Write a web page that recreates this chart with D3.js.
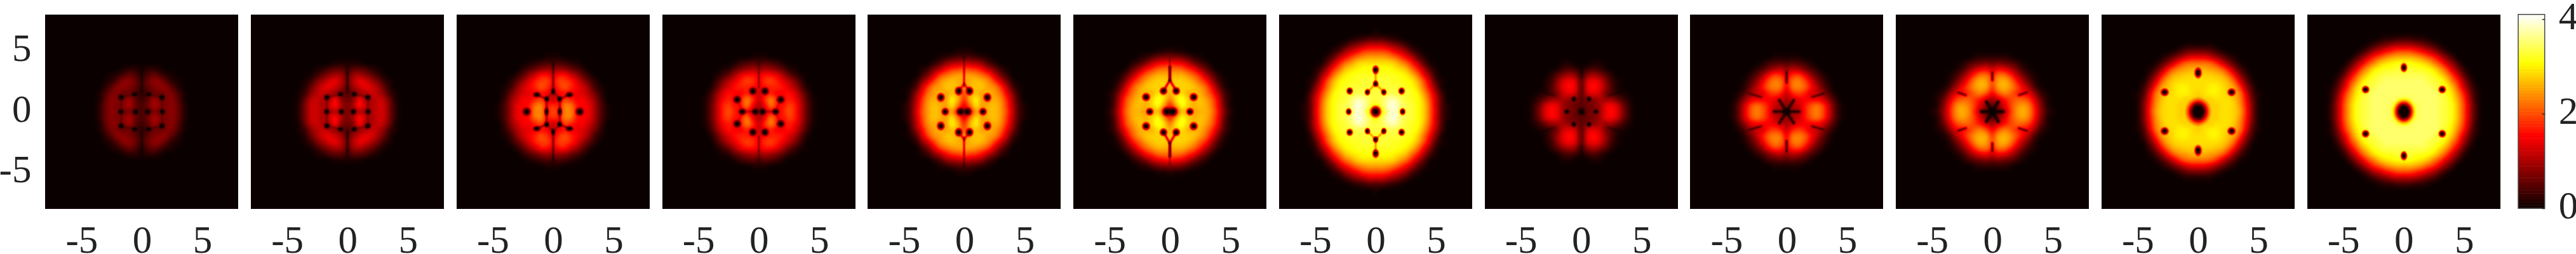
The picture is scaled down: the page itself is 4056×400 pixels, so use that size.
<!DOCTYPE html>
<html>
<head>
<meta charset="utf-8">
<script src="https://cdn.jsdelivr.net/npm/d3@7"></script>
<style>
  html, body { margin: 0; padding: 0; background: #fff; overflow: hidden; }
  #plot { position: relative; width: 4056px; height: 400px; }
  canvas, svg { position: absolute; left: 0; top: 0; }
  text { font-family: "Liberation Serif", serif; font-size: 61px; fill: #222; }
</style>
</head>
<body>
<div id="plot"></div>
<script>
// density, estimated by eye, one quadrant only (panels are mirror symmetric)
// rows are y = 0, 0.5, 1 ... and columns x = 0, 0.5, 1 ... values are density x 10, past the row end is 0
var density1 = [
  [4,4,7,6,7,8,6,2,0],[4,6,10,8,7,8,6,2,0],[3,5,9,7,7,8,5,1,0],[2,4,6,6,7,7,4,1,0],[3,5,7,8,8,5,2,0],
  [3,6,8,8,5,2,1,0],[2,4,6,4,2,1,0],[1,2,2,1,0]];
var density2 = [
  [7,7,11,9,10,12,12,7,2,0],[7,10,16,12,10,12,12,7,2,0],[6,8,15,10,10,12,11,6,1,0],[4,6,9,10,12,11,8,3,1,0],
  [5,9,12,14,13,10,6,2,0],[6,11,14,13,10,7,3,1,0],[5,9,10,8,6,3,1,0],[3,5,5,4,2,1,0],[1,1,1,0]];
var density3 = [
  [20,17,23,23,16,15,14,9,4,1,0],[18,17,23,22,16,15,14,9,4,1,0],[12,15,19,17,15,15,12,8,3,0],[12,15,16,15,14,13,10,6,2,0],
  [14,18,20,17,15,12,8,3,1,0],[16,19,19,17,13,9,5,2,0],[13,16,16,12,9,5,2,0],[8,9,8,6,4,2,0],[3,4,3,2,1,0],[1,1,0]];
var density4 = [
  [8,12,16,14,17,20,17,11,5,1,0],[10,15,22,17,16,19,17,11,5,1,0],[12,18,23,17,15,17,15,10,4,1,0],[12,15,17,15,15,16,13,8,3,0],
  [14,16,17,17,16,13,10,5,1,0],[15,18,19,17,14,11,7,3,0],[14,16,16,14,10,6,3,1,0],[9,10,9,7,5,2,1,0],[4,5,4,3,1,0],[1,1,0]];
var density5 = [
  [8,15,25,21,26,27,25,20,12,4,1,0],[14,22,29,25,26,27,25,19,11,4,1,0],[18,26,30,25,24,26,24,18,10,3,0],[20,25,27,25,26,25,22,15,8,2,0],
  [23,26,27,27,25,24,19,12,4,1,0],[25,26,27,26,24,19,13,7,2,0],[25,25,24,22,19,13,7,3,0],[20,19,18,15,11,7,3,1,0],
  [12,11,10,8,4,2,0],[4,4,3,2,1,0],[1,1,0]];
var density6 = [
  [12,17,27,24,25,26,26,23,16,7,2,0],[17,25,31,28,26,27,26,22,15,6,1,0],[23,29,32,28,26,27,25,21,14,5,1,0],[26,28,29,26,26,26,23,18,11,4,1,0],
  [27,28,28,28,27,25,21,15,7,2,0],[27,28,28,27,25,21,17,10,4,1,0],[26,26,26,24,21,17,11,6,2,0],[22,22,21,18,15,10,6,2,0],
  [16,15,14,11,7,4,2,0],[7,7,6,4,2,1,0],[2,1,1,0]];
var density7 = [
  [15,29,37,39,36,34,33,31,28,21,13,4,1,0],[30,34,38,40,36,34,33,31,28,21,12,4,1,0],[33,34,37,38,35,33,32,31,27,20,12,4,0],
  [33,34,34,34,33,33,32,30,25,18,10,3,0],[33,33,33,33,33,32,31,28,22,15,7,1,0],[33,33,33,32,32,31,30,26,20,12,4,1,0],
  [32,32,32,32,31,30,27,22,15,8,2,0],[31,31,31,30,29,27,22,17,10,4,1,0],[29,29,29,28,25,22,17,11,5,1,0],
  [25,25,24,22,19,15,11,5,2,0],[19,19,18,15,12,9,4,2,0],[12,12,10,8,6,3,1,0],[4,4,3,2,1,0],[1,0]];
var density8 = [
  [3,6,7,9,14,16,13,7,2,0],[5,6,7,9,14,15,12,6,2,0],[5,7,8,10,9,9,6,3,1,0],[5,12,14,12,7,4,2,1,0],[5,14,16,14,9,4,1,0],
  [5,13,15,13,8,3,1,0],[3,8,10,8,5,2,0],[1,3,4,3,1,0],[0,0,1,1,0]];
var density9 = [
  [6,9,10,16,21,23,20,13,5,1,0],[8,10,12,16,20,22,19,12,5,1,0],[10,12,14,15,15,15,13,8,3,0],[12,17,19,17,13,12,9,4,1,0],
  [15,22,23,21,16,11,6,2,0],[16,22,23,20,14,8,4,1,0],[14,18,19,15,9,5,2,0],[9,11,10,7,4,2,0],[4,5,4,3,1,0],[1,1,1,0]];
var density10 = [
  [3,5,10,18,24,26,24,17,9,3,1,0],[5,8,13,19,23,25,23,16,8,2,0],[9,12,16,19,21,21,19,13,6,2,0],[15,20,23,21,18,16,14,9,3,1,0],
  [19,25,26,24,20,15,10,4,1,0],[20,25,26,23,17,11,6,2,0],[18,22,22,18,12,7,3,1,0],[12,15,14,11,7,3,1,0],[6,7,6,5,3,1,0],[2,2,2,1,0]];
var density11 = [
  [27,27,28,28,29,29,28,25,17,7,1,0],[27,27,28,28,29,29,28,24,16,7,1,0],[27,28,28,29,29,29,27,23,15,6,1,0],[28,29,30,30,29,28,26,22,13,4,1,0],
  [29,29,30,30,29,27,25,18,9,3,0],[29,29,29,29,28,26,21,13,6,1,0],[28,28,28,27,26,22,16,8,3,0],[26,26,25,24,21,16,9,4,1,0],
  [22,22,21,18,13,8,4,1,0],[14,14,12,9,6,3,1,0],[6,6,5,3,1,0],[1,1,1,0]];
var density12 = [
  [34,34,34,35,35,35,34,33,31,26,19,10,3,0],[34,34,34,35,35,35,34,33,31,26,19,10,3,0],[34,34,35,35,35,35,34,33,30,25,18,9,2,0],
  [35,35,35,35,35,35,34,32,29,23,16,7,2,0],[35,35,35,35,35,34,33,31,27,20,12,5,1,0],[35,35,35,35,34,33,32,29,23,17,9,3,0],
  [34,34,34,34,33,32,29,25,19,12,5,1,0],[33,33,32,32,31,29,25,20,13,7,2,0],[31,31,30,29,27,23,19,13,8,3,0],
  [26,26,25,23,20,17,12,7,3,0],[19,19,17,15,12,9,5,2,0],[10,10,9,7,5,3,1,0],[3,3,2,2,1,0]];

// dark vortex cores, first quadrant, [x, y, radius x, radius y]
var vortices1 = [[1.7,1.18,.34,.34],[1.72,0,.32,.32],[.57,1.44,.32,.28],[.5,0,.32,.34]];
var vortices2 = [[1.7,1.18,.34,.34],[1.72,0,.32,.32],[.57,1.44,.32,.28],[.5,0,.32,.34]];
var vortices3 = [[2.2,0,.45,.45],[1.35,1.4,.42,.3],[.53,1.05,.3,.35],[.55,0,.25,.45],[0,1.67,.25,.4]];
var vortices4 = [[.5,1.7,.42,.42],[1.8,1,.42,.42],[1.38,0,.4,.35],[.3,0,.38,.38]];
var vortices5 = [[.45,1.7,.4,.45],[1.93,1.18,.4,.45],[1.57,0,.38,.38],[.3,0,.42,.42]];
var vortices6 = [[.53,1.7,.4,.4],[1.97,1.2,.42,.42],[1.67,0,.38,.38],[.25,0,.48,.48]];
var vortices7 = [[0,3.45,.35,.45],[0,2.3,.3,.35],[2.15,1.7,.35,.38],[.68,1.6,.3,.35],[2.23,0,.32,.38],[0,0,.55,.6]];
var vortices8 = [[0,0,.4,.4],[1.2,0,.32,.28],[.63,1.05,.28,.3]];
var vortices9 = [[0,0,.45,.45]];
var vortices10 = [[0,0,.5,.5]];
var vortices11 = [[0,0,.7,.85],[0,0,1.15,1.25],[0,3.2,.38,.55],[2.77,1.6,.42,.4]];
var vortices12 = [[0,0,.65,.8],[0,0,1.05,1.2],[0,3.63,.35,.48],[3.17,1.82,.4,.4]];

// thin nodal lines, first quadrant, [x1, y1, x2, y2, darkness, width]
var seams1 = [[0,1.6,0,3.6,.75,2.5],[1.7,1.18,1.7,0,.3,3],[1.7,1.18,.57,1.44,.3,3]];
var seams2 = [[0,1.6,0,3.7,.75,2.5],[1.7,1.18,1.7,0,.3,3],[1.7,1.18,.57,1.44,.3,3]];
var seams3 = [[1.35,1.4,.53,1.05,.6,2.5],[.53,1.05,.55,0,.55,2.5],[0,1.67,.53,1.05,.45,2],[0,1.7,0,4.1,.7,2.5]];
var seams4 = [[.3,0,1.38,0,.3,3],[1.38,0,1.8,1,.2,3],[0,2,0,4.1,.55,2]];
var seams5 = [[0,2.1,0,4.5,.7,2],[.45,1.7,0,2.3,.45,2.5]];
var seams6 = [[0,2.55,0,3.7,.95,3.5],[0,3.7,0,4.4,.5,2],[0,2.6,.53,1.7,.6,3]];
var seams7 = [[0,3.45,0,2.3,.3,3],[0,2.3,.68,1.6,.3,3]];
var seams8 = [[0,2.8,0,4,.55,2.5],[2.2,1.3,3.2,1.62,.55,2.5]];
var seams9 = [[0,0,1.05,0,.8,4.5],[0,0,.6,.95,.8,4.5],[0,2.4,0,3.3,.8,3.5],[2.1,1.2,3.1,1.5,.7,3]];
var seams10 = [[0,0,.9,0,.85,5.5],[0,0,.48,.8,.85,5.5],[0,2.6,0,3.25,.75,3.5],[2.2,1.36,2.85,1.58,.75,3]];
var seams11 = [];
var seams12 = [];

var x_ticks = [-5, 0, 5];
var y_ticks = [5, 0, -5];
var colorbar_ticks = [0, 2, 4];
var density_max = 4.1;

var all_density = [density1,density2,density3,density4,density5,density6,density7,density8,density9,density10,density11,density12];
var all_vortices = [vortices1,vortices2,vortices3,vortices4,vortices5,vortices6,vortices7,vortices8,vortices9,vortices10,vortices11,vortices12];
var all_seams = [seams1,seams2,seams3,seams4,seams5,seams6,seams7,seams8,seams9,seams10,seams11,seams12];

var plot_w = 4056, plot_h = 400;
var panel_top = 23.3, panel_bot = 329, panel_w = 304, panel_left = 71.4, panel_step = 323.75;
var cell = 0.5;

// matlab style hot colormap
var hot = d3.scaleLinear()
  .domain([0, density_max * 3 / 8, density_max * 6 / 8, density_max])
  .range(['#0b0000', '#ff0000', '#ffff00', '#ffffff'])
  .clamp(true);

var grey_to_hot = d3.range(256).map(function(g){ return d3.rgb(hot(g / 255 * density_max)); });

var canvas = d3.select('#plot').append('canvas').attr('width', plot_w).attr('height', plot_h);
var ctx = canvas.node().getContext('2d', {willReadFrequently: true});
var svg = d3.select('#plot').append('svg').attr('width', plot_w).attr('height', plot_h);

ctx.fillStyle = '#fff';
ctx.fillRect(0, 0, plot_w, plot_h);

var grey = d3.scaleLinear().domain([0, density_max]).range([0, 255]);

// draw one panel in greyscale (grey = density) on a scratch canvas, browser does the smoothing
function draw_panel(i){

  var left = panel_left + i * panel_step;
  var x_scale = d3.scaleLinear().domain([-8, 8]).range([0, panel_w]);
  var y_scale = d3.scaleLinear().domain([-8, 8]).range([panel_bot - panel_top, 0]);
  var w = panel_w, h = Math.round(panel_bot - panel_top);

  var grid_vals = d3.range(-8, 8 + cell, cell);
  var n = grid_vals.length;
  var small = document.createElement('canvas');
  small.width = n; small.height = n;
  var small_ctx = small.getContext('2d');
  var img = small_ctx.createImageData(n, n);
  var rows = all_density[i];

  grid_vals.forEach(function(gy, r){
    grid_vals.forEach(function(gx, c){
      var row = rows[Math.abs(gy) / cell] || [];
      var val = (row[Math.abs(gx) / cell] || 0) / 10;
      var p = (r * n + c) * 4;
      img.data[p] = img.data[p + 1] = img.data[p + 2] = grey(val);
      img.data[p + 3] = 255;
    });
  });
  small_ctx.putImageData(img, 0, 0);

  var scratch = document.createElement('canvas');
  scratch.width = w; scratch.height = h;
  var sc = scratch.getContext('2d', {willReadFrequently: true});
  sc.fillStyle = '#000';
  sc.fillRect(0, 0, w, h);
  sc.imageSmoothingEnabled = true;
  sc.imageSmoothingQuality = 'high';
  var half = cell / 2;
  sc.drawImage(small, x_scale(-8 - half), y_scale(8 + half),
    x_scale(8 + half) - x_scale(-8 - half), y_scale(-8 - half) - y_scale(8 + half));

  // nodal lines
  sc.save();
  sc.filter = 'blur(1.2px)';
  sc.lineCap = 'round';
  all_seams[i].forEach(function(s){
    [1, -1].forEach(function(sx){
      [1, -1].forEach(function(sy){
        if (sx < 0 && s[0] === 0 && s[2] === 0) { return; }
        if (sy < 0 && s[1] === 0 && s[3] === 0) { return; }
        sc.strokeStyle = 'rgba(0,0,0,' + s[4] + ')';
        sc.lineWidth = s[5];
        sc.beginPath();
        sc.moveTo(x_scale(sx * s[0]), y_scale(sy * s[1]));
        sc.lineTo(x_scale(sx * s[2]), y_scale(sy * s[3]));
        sc.stroke();
      });
    });
  });
  sc.restore();

  // vortex cores
  all_vortices[i].forEach(function(v){
    [1, -1].forEach(function(sx){
      [1, -1].forEach(function(sy){
        if (sx < 0 && v[0] === 0) { return; }
        if (sy < 0 && v[1] === 0) { return; }
        var rx = x_scale(v[2]) - x_scale(0);
        var ry = y_scale(0) - y_scale(v[3]);
        sc.save();
        sc.translate(x_scale(sx * v[0]), y_scale(sy * v[1]));
        sc.scale(rx, ry);
        var grad = sc.createRadialGradient(0, 0, 0, 0, 0, 1);
        grad.addColorStop(0, 'rgba(0,0,0,1)');
        grad.addColorStop(0.3, 'rgba(0,0,0,.95)');
        grad.addColorStop(0.55, 'rgba(0,0,0,.62)');
        grad.addColorStop(0.8, 'rgba(0,0,0,.2)');
        grad.addColorStop(1, 'rgba(0,0,0,0)');
        sc.fillStyle = grad;
        sc.beginPath();
        sc.arc(0, 0, 1, 0, 2 * Math.PI);
        sc.fill();
        sc.restore();
      });
    });
  });

  // grey level back to density, then through the colormap
  var pix = sc.getImageData(0, 0, w, h);
  for (var p = 0; p < pix.data.length; p += 4){
    var col = grey_to_hot[pix.data[p]];
    pix.data[p] = col.r; pix.data[p + 1] = col.g; pix.data[p + 2] = col.b; pix.data[p + 3] = 255;
  }
  ctx.putImageData(pix, Math.round(left), Math.round(panel_top));

  // axes
  var g = svg.append('g').attr('transform', 'translate(' + left + ',0)');
  var x_axis_scale = d3.scaleLinear().domain([-8, 8]).range([0, panel_w]);
  var y_axis_scale = d3.scaleLinear().domain([-8, 8]).range([panel_bot, panel_top]);

  var x_axis = g.append('g')
    .attr('transform', 'translate(0,' + panel_bot + ')')
    .call(d3.axisBottom(x_axis_scale).tickValues(x_ticks).tickSize(0).tickPadding(26).tickFormat(d3.format('d')));
  x_axis.select('.domain').remove();
  x_axis.selectAll('text').text(function(d){ return String(d); });

  if (i === 0){
    var y_axis = g.append('g')
      .call(d3.axisLeft(y_axis_scale).tickValues(y_ticks).tickSize(0).tickPadding(22).tickFormat(d3.format('d')));
    y_axis.select('.domain').remove();
    y_axis.selectAll('text').attr('dy', '0.25em').text(function(d){ return String(d); });
  }
}

d3.range(12).forEach(draw_panel);

// colorbar
var bar_left = 3965, bar_right = 4006.7, bar_top = 22.7, bar_bot = 328;
var bar_scale = d3.scaleLinear().domain([0, density_max]).range([bar_bot, bar_top]);
var bar_levels = d3.range(64);

svg.append('g')
  .selectAll('rect')
  .data(bar_levels)
  .enter()
  .append('rect')
  .attr('x', bar_left)
  .attr('width', bar_right - bar_left)
  .attr('y', function(d){ return bar_scale((d + 1) / 64 * density_max); })
  .attr('height', function(d){ return bar_scale(d / 64 * density_max) - bar_scale((d + 1) / 64 * density_max) + 0.5; })
  .attr('fill', function(d){ return hot((d + 0.5) / 64 * density_max); });

svg.append('rect')
  .attr('x', bar_left)
  .attr('y', bar_top)
  .attr('width', bar_right - bar_left)
  .attr('height', bar_bot - bar_top)
  .attr('fill', 'none')
  .attr('stroke', '#444')
  .attr('stroke-width', 1.5);

var bar_axis = svg.append('g')
  .attr('transform', 'translate(' + bar_right + ',0)')
  .call(d3.axisRight(bar_scale).tickValues(colorbar_ticks).tickSizeInner(-4).tickSizeOuter(0).tickPadding(22).tickFormat(d3.format('d')));
bar_axis.select('.domain').remove();
bar_axis.selectAll('line').attr('stroke', '#222').attr('stroke-width', 1.5);
bar_axis.selectAll('text').attr('dy', '0.25em').attr('x', 22);
</script>
</body>
</html>
